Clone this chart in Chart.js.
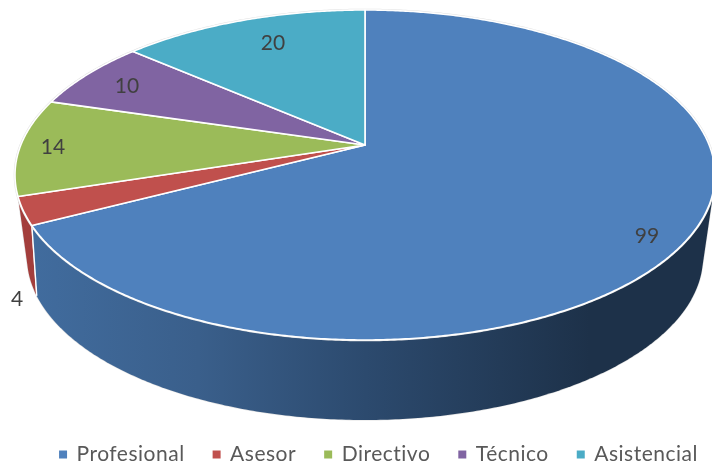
<!DOCTYPE html>
<html><head><meta charset="utf-8">
<style>html,body{margin:0;padding:0;background:#fff}canvas{display:block}</style>
<script src="https://cdn.jsdelivr.net/npm/chart.js@4"></script>
</head><body><canvas id="c" width="712" height="465"></canvas>
<script>
const categories = ["Profesional","Asesor","Directivo","Técnico","Asistencial"];
const values = [99,4,14,10,20];
const colors = ["#4f81bd","#c0504d","#9bbb59","#8064a2","#4bacc6"];
const labelAnchors = [[647,236],[17,299],[53,147],[127,86],[273,43]];

function projector(apexY, rx, top, front){
  // circle in perspective: ellipse seen from above, apex off-centre
  const c = (front-top)/(front+top);
  const A = rx*Math.sqrt(1-c*c), B = top*(1+c);
  return (t,cx)=>{
    const u=Math.sin(t), v=Math.cos(t), d=1+c*v;
    return [cx+A*u/d, apexY-B*v/d];
  };
}
const topFace = projector(145,350,135,195);
const botFace = projector(216,338,122,204);

function hull(pts){
  pts=pts.slice().sort((a,b)=>a[0]-b[0]||a[1]-b[1]);
  const cr=(o,a,b)=>(a[0]-o[0])*(b[1]-o[1])-(a[1]-o[1])*(b[0]-o[0]);
  const half=list=>{const h=[];for(const p of list){while(h.length>1&&cr(h[h.length-2],h[h.length-1],p)<=0)h.pop();h.push(p);}h.pop();return h;};
  return half(pts).concat(half(pts.slice().reverse()));
}

const SPACING='0.5px';
const pie3d = {
  id:'pie3d',
  beforeUpdate(chart){ chart.ctx.letterSpacing=SPACING; },
  beforeDraw(chart){ chart.ctx.letterSpacing=SPACING; },
  afterLayout(chart){ chart.legend.left+=3; chart.legend.right+=3; },
  beforeDatasetsDraw(chart){
    const ctx=chart.ctx, arcs=chart.getDatasetMeta(0).data, cx=arcs[0].x+9;
    const T=a=>a+Math.PI/2;
    const step=Math.PI/180/2;
    const wall=(t0,t1,fill)=>{
      const pts=[];
      for(let t=t0;t<t1;t+=step){pts.push(topFace(t,cx),botFace(t,cx));}
      pts.push(topFace(t1,cx),botFace(t1,cx));
      const h=hull(pts);
      ctx.beginPath();h.forEach((p,i)=>i?ctx.lineTo(p[0],p[1]):ctx.moveTo(p[0],p[1]));ctx.closePath();
      ctx.strokeStyle='#e2e2e2';ctx.lineWidth=1.2;ctx.stroke();
      ctx.fillStyle=fill;ctx.fill();
    };
    ctx.save();
    ctx.letterSpacing='0px';
    // side walls of the two slices that face the viewer
    const g=ctx.createLinearGradient(30,0,590,0);
    g.addColorStop(0,'#416c9e');g.addColorStop(0.3,'#3a5f8b');g.addColorStop(0.6,'#2c4a6e');g.addColorStop(1,'#1d3149');
    wall(T(arcs[1].startAngle),T(arcs[1].endAngle),'#a33e3c');
    wall(1.1,T(arcs[0].endAngle),g);
    // white seam between the two walls
    const s0=topFace(T(arcs[0].endAngle),cx),s1=botFace(T(arcs[0].endAngle),cx);
    ctx.beginPath();ctx.moveTo(s0[0],s0[1]);ctx.lineTo(s1[0],s1[1]);ctx.strokeStyle='#fff';ctx.lineWidth=1.4;ctx.stroke();
    // soft rim
    ctx.beginPath();
    for(let t=0;t<=Math.PI*2+.01;t+=step){const p=topFace(t,cx);ctx.lineTo(p[0],p[1]);}
    ctx.closePath();ctx.strokeStyle='#e2e2e2';ctx.lineWidth=2.6;ctx.stroke();
    // top faces
    arcs.forEach((a,i)=>{
      const t0=T(a.startAngle),t1=T(a.endAngle);
      ctx.beginPath();
      ctx.moveTo(cx,145);
      for(let t=t0;t<t1;t+=step){const p=topFace(t,cx);ctx.lineTo(p[0],p[1]);}
      const p=topFace(t1,cx);ctx.lineTo(p[0],p[1]);ctx.closePath();
      ctx.fillStyle=colors[i];ctx.fill();
      ctx.strokeStyle='#fff';ctx.lineWidth=1.6;ctx.lineJoin='round';ctx.stroke();
    });
    // value labels
    ctx.font='21px Lato';ctx.fillStyle='#404040';ctx.textAlign='center';ctx.textBaseline='middle';
    values.forEach((v,i)=>ctx.fillText(String(v),labelAnchors[i][0],labelAnchors[i][1]));
    ctx.restore();
    return false;
  }
};

new Chart(document.getElementById('c'),{
  type:'pie',
  data:{labels:categories,datasets:[{data:values,backgroundColor:colors,borderWidth:0}]},
  plugins:[pie3d],
  options:{
    responsive:false,animation:false,
    layout:{padding:{left:0,right:-40,top:0,bottom:-10}},
    plugins:{
      tooltip:{enabled:false},
      legend:{position:'bottom',align:'center',
        labels:{usePointStyle:true,pointStyle:'rect',boxWidth:6,boxHeight:8,padding:29,color:'#595959',font:{family:'Lato',size:21}}}
    }
  }
});
</script></body></html>
